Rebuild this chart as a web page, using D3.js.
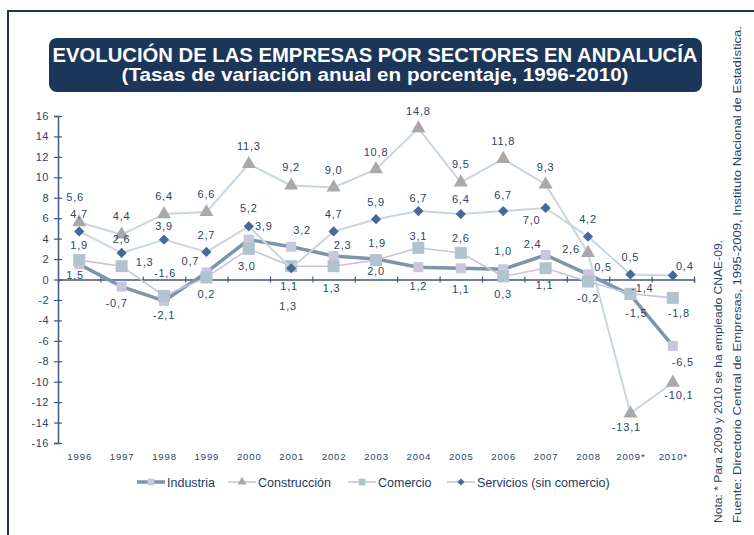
<!DOCTYPE html>
<html>
<head>
<meta charset="utf-8">
<script src="https://cdn.jsdelivr.net/npm/d3@7"></script>
<style>
  html, body { margin: 0; padding: 0; background: #fff; }
  svg { display: block; font-family: "Liberation Sans", Arial, sans-serif; }
</style>
</head>
<body>
<div id="chart"></div>
<script>
const years = ['1996','1997','1998','1999','2000','2001','2002','2003','2004','2005','2006','2007','2008','2009*','2010*'];
const industria    = [1.5, -0.7, -2.1, 0.7, 3.9, 3.2, 2.3, 2.0, 1.2, 1.1, 1.0, 2.4, 0.5, -1.5, -6.5];
const construccion = [5.6, 4.4, 6.4, 6.6, 11.3, 9.2, 9.0, 10.8, 14.8, 9.5, 11.8, 9.3, 2.6, -13.1, -10.1];
const comercio     = [1.9, 1.3, -1.6, 0.2, 3.0, 1.3, 1.3, 1.9, 3.1, 2.6, 0.3, 1.1, -0.2, -1.4, -1.8];
const servicios    = [4.7, 2.6, 3.9, 2.7, 5.2, 1.1, 4.7, 5.9, 6.7, 6.4, 6.7, 7.0, 4.2, 0.5, 0.4];
const yTicks = d3.range(-16, 17, 2);

// where each value label sits relative to its marker (dx, dy)
const labelOffsets = {
  industria:    [[-4,11],[-5,16],[0,14],[-16,-11],[15,-13],[11,-17],[9,-11],[0,12],[0,19],[0,21],[0,-18],[-13,-11],[15,-7],[6,18],[10,16]],
  construccion: [[-4,-25],[0,-18],[0,-18],[0,-18],[0,-18],[0,-18],[0,-17],[0,-17],[0,-17],[0,-18],[0,-18],[0,-17],[-17,-4],[-4,14],[6,12]],
  comercio:     [[0,-15],[23,-4],[1,-23],[0,17],[-2,17],[-3,40],[-2,22],[1,-17],[0,-12],[0,-15],[0,18],[-1,17],[0,17],[12,-6],[6,15]],
  servicios:    [[0,-17],[0,-14],[0,-13],[0,-17],[0,-18],[-2,18],[0,-17],[0,-17],[0,-13],[0,-15],[0,-16],[-14,12],[0,-17],[0,-17],[12,-9]]
};

const W = 754, H = 535;
const navy = '#1c365a';
const textCol = '#2b4468';
const axisCol = '#3f5a80';

const series = [
  {key: 'industria', name: 'Industria', values: industria, line: '#7d95a8', lw: 3.5, shape: d3.symbolSquare, size: 100, fill: '#c9c6e0', lsize: 45, rot: 0},
  {key: 'construccion', name: 'Construcción', values: construccion, line: '#c9d6df', lw: 2, shape: d3.symbolTriangle, size: 85, fill: '#a9a9a9', lsize: 35, rot: 0},
  {key: 'comercio', name: 'Comercio', values: comercio, line: '#c9c2df', lw: 1.6, shape: d3.symbolSquare, size: 144, fill: '#b1c3cf', lsize: 45, rot: 0},
  {key: 'servicios', name: 'Servicios (sin comercio)', values: servicios, line: '#c9d6df', lw: 2, shape: d3.symbolSquare, size: 52, fill: '#46689a', lsize: 26, rot: 45}
];

const svg = d3.select('#chart').append('svg')
  .attr('width', W)
  .attr('height', H);

// frame
svg.append('line').attr('x1', 7).attr('x2', W).attr('y1', 11).attr('y2', 11)
  .attr('stroke', navy).attr('stroke-width', 2);
svg.append('line').attr('x1', 8).attr('x2', 8).attr('y1', 10).attr('y2', H)
  .attr('stroke', navy).attr('stroke-width', 2);

// title box
svg.append('rect').attr('x', 49).attr('y', 38).attr('width', 653).attr('height', 54)
  .attr('rx', 8).attr('fill', navy);
svg.append('text').attr('x', 375).attr('y', 62).attr('text-anchor', 'middle')
  .attr('fill', '#fff').attr('font-size', 20).attr('font-weight', 'bold')
  .attr('textLength', 645).attr('lengthAdjust', 'spacingAndGlyphs')
  .text('EVOLUCIÓN DE LAS EMPRESAS POR SECTORES EN ANDALUCÍA');
svg.append('text').attr('x', 375).attr('y', 81).attr('text-anchor', 'middle')
  .attr('fill', '#fff').attr('font-size', 19).attr('font-weight', 'bold')
  .attr('textLength', 507).attr('lengthAdjust', 'spacingAndGlyphs')
  .text('(Tasas de variación anual en porcentaje, 1996-2010)');

// scales
const x0 = 58, x1 = 694;
const x = d3.scaleBand().domain(years).range([x0, x1]).padding(0);
const cx = d => x(d) + x.bandwidth() / 2;
const xEdge = d3.scaleLinear().domain([0, years.length]).range([x0, x1]);
const y = d3.scaleLinear().domain([-16, 16]).range([443, 116]);

const hyphen = s => s.replace('\u2212', '-');

// y axis
const yAxis = svg.append('g')
  .attr('transform', 'translate(' + x0 + ',0)')
  .call(d3.axisLeft(y).tickValues(yTicks).tickSize(4).tickPadding(5).tickFormat(d => hyphen(d3.format('d')(d))));
yAxis.select('.domain').attr('stroke', axisCol).attr('stroke-width', 1.5);
yAxis.selectAll('.tick line').attr('x1', 4).attr('x2', -4).attr('stroke', axisCol).attr('stroke-width', 1.2);
yAxis.selectAll('.tick text').attr('fill', textCol).attr('font-size', 11).attr('letter-spacing', 0.5)
  .attr('font-family', '"Liberation Sans", Arial, sans-serif');

// x axis at zero
const xAxis = svg.append('g')
  .attr('transform', 'translate(0,' + y(0) + ')')
  .call(d3.axisBottom(xEdge).tickValues(d3.range(1, years.length + 1)).tickSize(3).tickFormat(''));
xAxis.select('.domain').attr('stroke', axisCol).attr('stroke-width', 1.5);
xAxis.selectAll('.tick line').attr('y1', -3).attr('y2', 3).attr('stroke', axisCol).attr('stroke-width', 1.2);

// category labels at the bottom
svg.append('g').selectAll('text').data(years).join('text')
  .attr('x', d => cx(d) + 0.5)
  .attr('y', 460)
  .attr('text-anchor', 'middle')
  .attr('fill', textCol)
  .attr('font-size', 9.5)
  .attr('letter-spacing', 0.9)
  .text(d => d);

// series lines
const line = d3.line().x((v, i) => cx(years[i])).y(v => y(v));
const fmt = v => hyphen(d3.format('.1f')(v)).replace('.', ',');

series.forEach(s => {
  const g = svg.append('g').attr('class', 'series-' + s.key);
  g.append('path').datum(s.values)
    .attr('d', line)
    .attr('fill', 'none')
    .attr('stroke', s.line)
    .attr('stroke-width', s.lw)
    .attr('stroke-linejoin', 'round');
  g.selectAll('path.mark').data(s.values).join('path')
    .attr('class', 'mark')
    .attr('d', d3.symbol().type(s.shape).size(s.size))
    .attr('transform', (v, i) => 'translate(' + cx(years[i]) + ',' + y(v) + ') rotate(' + s.rot + ')')
    .attr('fill', s.fill);
});

// value labels on top
series.forEach(s => {
  svg.append('g').selectAll('text').data(s.values).join('text')
    .attr('x', (v, i) => cx(years[i]) + labelOffsets[s.key][i][0])
    .attr('y', (v, i) => y(v) + labelOffsets[s.key][i][1])
    .attr('dy', '0.35em')
    .attr('text-anchor', 'middle')
    .attr('fill', textCol)
    .attr('font-size', 11)
    .attr('letter-spacing', 0.8)
    .text(v => fmt(v));
});

// legend
const legendX = [137, 228, 348, 447];
const legend = svg.append('g').attr('transform', 'translate(0,482)');
series.forEach((s, i) => {
  const g = legend.append('g').attr('transform', 'translate(' + legendX[i] + ',0)');
  g.append('line').attr('x1', 0).attr('x2', 28).attr('y1', 0).attr('y2', 0)
    .attr('stroke', s.line).attr('stroke-width', s.lw);
  g.append('path').attr('d', d3.symbol().type(s.shape).size(s.lsize))
    .attr('transform', 'translate(14,0) rotate(' + s.rot + ')').attr('fill', s.fill);
  g.append('text').attr('x', 30).attr('y', 0).attr('dy', '0.36em')
    .attr('fill', '#1f3a5f').attr('font-size', 12.5)
    .text(s.name);
});

// side notes
svg.append('text')
  .attr('transform', 'translate(722,523) rotate(-90)')
  .attr('fill', textCol).attr('font-size', 11.5)
  .attr('textLength', 283).attr('lengthAdjust', 'spacingAndGlyphs')
  .text('Nota: * Para 2009 y 2010 se ha empleado CNAE-09.');
svg.append('text')
  .attr('transform', 'translate(741,523) rotate(-90)')
  .attr('fill', textCol).attr('font-size', 11.5)
  .attr('textLength', 497).attr('lengthAdjust', 'spacingAndGlyphs')
  .text('Fuente: Directorio Central de Empresas, 1995-2009, Instituto Nacional de Estadística.');
</script>
</body>
</html>
